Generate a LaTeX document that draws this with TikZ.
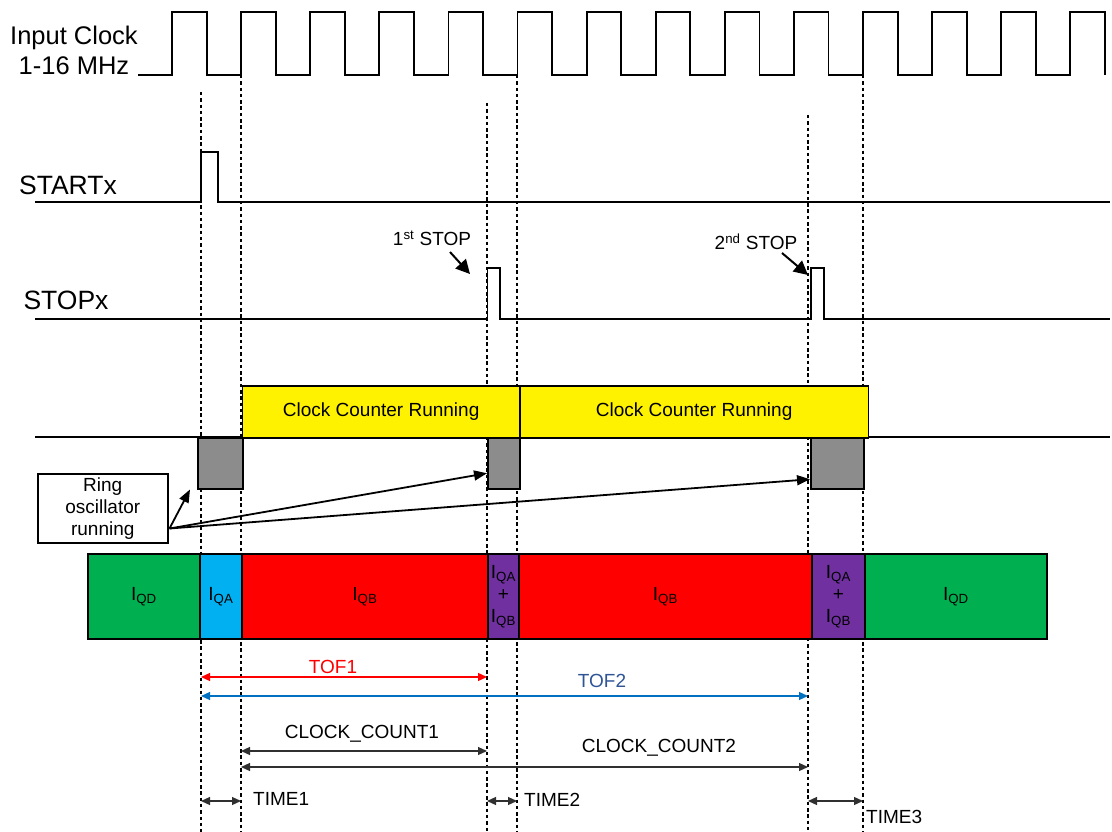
\documentclass[tikz,border=0pt]{standalone}
\usepackage{fontspec}
\setmainfont{Liberation Sans}
\usetikzlibrary{arrows.meta,calc}
\definecolor{qdgreen}{HTML}{00B050}
\definecolor{qablue}{HTML}{00B0F0}
\definecolor{qbred}{HTML}{FF0000}
\definecolor{qpurple}{HTML}{7030A0}
\definecolor{ringgray}{HTML}{8C8C8C}
\definecolor{tofblue}{HTML}{0070C0}
\definecolor{toftext}{HTML}{2F5597}
\definecolor{cntline}{HTML}{303030}
\tikzset{
  txt/.style={font=\fontsize{19}{22}\selectfont},
  bigtxt/.style={font=\fontsize{25.5}{30}\selectfont},
  sigtxt/.style={font=\fontsize{26.5}{30}\selectfont},
  wave/.style={line width=1.8pt, line join=miter},
  guide/.style={line width=2pt, dash pattern=on 3.5pt off 2.8pt},
  seg/.style={draw=black, line width=1.8pt, anchor=north west, minimum height=85pt, inner sep=0pt, txt, align=center},
  runbox/.style={draw=black, line width=1.8pt, fill=yellow, anchor=north west, minimum height=52pt, inner sep=0pt, txt},
  graybox/.style={draw=black, line width=1.5pt, fill=ringgray, anchor=north west, minimum height=51pt, inner sep=0pt},
  stoparrow/.style={line width=2pt, -{Triangle[length=14pt,width=14pt]}},
  ringarrow/.style={line width=1.8pt, -{Triangle[length=13pt,width=10pt]}},
  dimarrow/.style={line width=1.2pt, {Triangle[length=9pt,width=8pt]}-{Triangle[length=9pt,width=8pt]}}
}
\begin{document}
\begin{tikzpicture}[x=1pt,y=-1pt]
\useasboundingbox (0,0) rectangle (1112,832);

% guide lines
\draw[guide] (201,92) -- (201,832);
\draw[guide] (241,75) -- (241,832);
\draw[guide] (487,103) -- (487,832);
\draw[guide] (517,75) -- (517,832);
\draw[guide] (808,115) -- (808,832);
\draw[guide] (863,75) -- (863,832);

% input clock
\node[bigtxt, align=center] (clklbl) at (74,50) {Input Clock\\1-16 MHz};
\draw[wave] (138,75) foreach \k in {0,...,13} {
  -- ({172+69.1*\k},75) -- ({172+69.1*\k},12) -- ({206.6+69.1*\k},12) -- ({206.6+69.1*\k},75) };

% START
\node[sigtxt] (startlbl) at (68,185) {STARTx};
\draw[wave] (35,202) -- (201,202) -- (201,152) -- (218,152) -- (218,202) -- (1110,202);

% STOP
\node[sigtxt] (stoplbl) at (66,300) {STOPx};
\draw[wave] (35,319) -- (487.5,319) -- (487.5,268) -- (500,268) -- (500,319)
  -- (811,319) -- (811,268) -- (824,268) -- (824,319) -- (1110,319);
\node[txt] (stop1) at (432,238) {1\textsuperscript{st} STOP};
\node[txt] (stop2) at (756,242) {2\textsuperscript{nd} STOP};
\coordinate (s1a) at (450,252);
\coordinate (s1b) at (470,274);
\coordinate (s2a) at (782,253);
\coordinate (s2b) at (808,275);
\draw[stoparrow] (s1a) -- (s1b);
\draw[stoparrow] (s2a) -- (s2b);

% counter row
\draw[line width=2pt] (35,436.5) -- (1110,436.5);
\node[runbox, minimum width=277.5pt] (run1) at (241.5,385) {Clock Counter Running};
\node[runbox, minimum width=348.5pt] (run2) at (519,385) {Clock Counter Running};
\node[graybox, minimum width=45pt] (g1) at (197,437) {};
\node[graybox, minimum width=32pt] (g2) at (487,437) {};
\node[graybox, minimum width=53pt] (g3) at (810,437) {};

% ring oscillator
\node[draw=black, line width=1.5pt, anchor=north west, minimum width=130pt, minimum height=69pt, inner sep=0pt, txt, align=center] (ring) at (37,473) {Ring\\oscillator\\running};
\coordinate (rfrom) at ($(ring.south east)+(1,-15)$);
\draw[ringarrow] (rfrom) -- ($(g1.south west)+(-7,0)$);
\draw[ringarrow] (rfrom) -- ($(g2.west)+(0,10)$);
\draw[ringarrow] (rfrom) -- ($(g3.west)+(0,16)$);

% current bar
\node[seg, fill=qdgreen, minimum width=112pt] (qd1) at (87,553) {I\textsubscript{QD}};
\node[seg, fill=qablue, minimum width=42pt] (qa1) at (199,553) {I\textsubscript{QA}};
\node[seg, fill=qbred, minimum width=246pt] (qb1) at (241,553) {I\textsubscript{QB}};
\node[seg, fill=qpurple, minimum width=31pt] (qab1) at (487,553) {I\textsubscript{QA}\\+\\I\textsubscript{QB}};
\node[seg, fill=qbred, minimum width=293pt] (qb2) at (518,553) {I\textsubscript{QB}};
\node[seg, fill=qpurple, minimum width=53pt] (qab2) at (811,553) {I\textsubscript{QA}\\+\\I\textsubscript{QB}};
\node[seg, fill=qdgreen, minimum width=182pt] (qd2) at (864,553) {I\textsubscript{QD}};

% dimensions
\coordinate (tof1a) at (201,677);
\coordinate (tof1b) at (487,677);
\coordinate (tof2a) at (201,696);
\coordinate (tof2b) at (808,696);
\coordinate (cc1a) at (241,751);
\coordinate (cc1b) at (487,751);
\coordinate (cc2a) at (241,767);
\coordinate (cc2b) at (808,767);
\coordinate (t1a) at (201,801);
\coordinate (t1b) at (241,801);
\coordinate (t2a) at (487,801);
\coordinate (t2b) at (517,801);
\coordinate (t3a) at (808,801);
\coordinate (t3b) at (863,801);
\draw[dimarrow, draw=qbred, fill=qbred] (tof1a) -- (tof1b);
\draw[dimarrow, draw=tofblue, fill=tofblue] (tof2a) -- (tof2b);
\draw[dimarrow, draw=cntline] (cc1a) -- (cc1b);
\draw[dimarrow, draw=cntline] (cc2a) -- (cc2b);
\draw[dimarrow, draw=cntline] (t1a) -- (t1b);
\draw[dimarrow, draw=cntline] (t2a) -- (t2b);
\draw[dimarrow, draw=cntline] (t3a) -- (t3b);
\node[txt, text=qbred] (tof1lbl) at (333,667) {TOF1};
\node[txt, text=toftext] (tof2lbl) at (602,681) {TOF2};
\node[txt] (cc1lbl) at (362,734) {CLOCK\_COUNT1};
\node[txt] (cc2lbl) at (659,748) {CLOCK\_COUNT2};
\node[txt, anchor=west, inner sep=0pt] (t1lbl) at (253,799) {TIME1};
\node[txt, anchor=west, inner sep=0pt] (t2lbl) at (524,800) {TIME2};
\node[txt, anchor=west, inner sep=0pt] (t3lbl) at (866,817) {TIME3};
\end{tikzpicture}
\end{document}
